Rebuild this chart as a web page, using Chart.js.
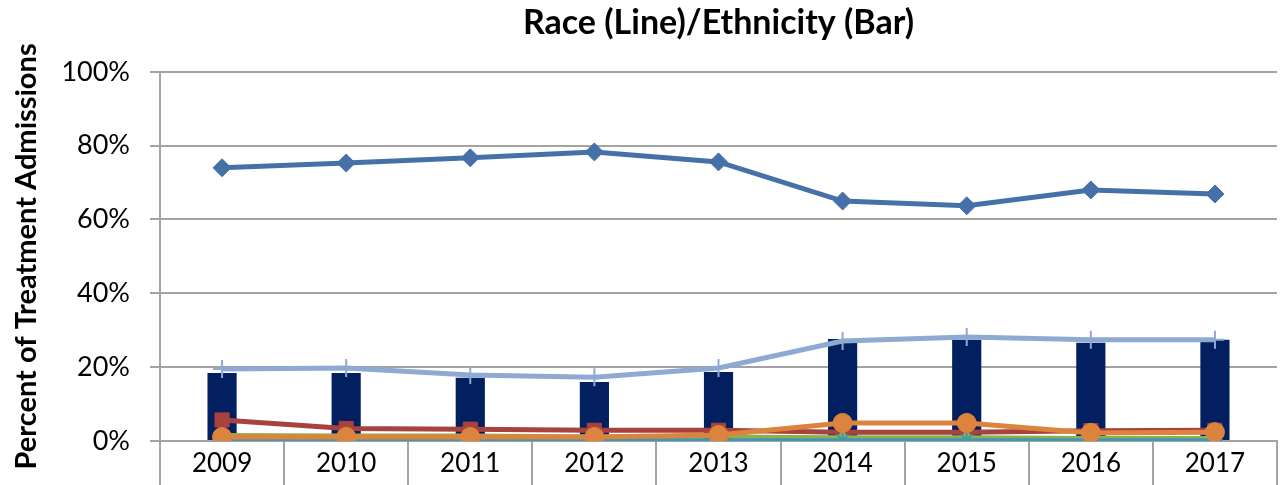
<!DOCTYPE html>
<html>
<head>
<meta charset="utf-8">
<script src="https://cdn.jsdelivr.net/npm/chart.js@4"></script>
<style>
  html, body { margin: 0; padding: 0; background: #fff; }
  #wrap { width: 1288px; height: 485px; }
</style>
</head>
<body>
<div id="wrap"><canvas id="raceChart"></canvas></div>
<script>
// values, percent of treatment admissions
const years = ['2009', '2010', '2011', '2012', '2013', '2014', '2015', '2016', '2017'];
const hispanicBar = [18.4, 18.4, 17.1, 16.0, 18.7, 27.6, 27.4, 26.6, 27.4];
const white = [74.0, 75.3, 76.7, 78.3, 75.6, 65.0, 63.7, 68.0, 66.9];
const black = [5.7, 3.4, 3.2, 2.9, 2.9, 2.4, 2.4, 2.8, 2.9];
const amIndian = [1.6, 1.5, 1.5, 1.2, 1.2, 1.0, 1.0, 0.8, 0.8];
const asian = [0.3, 0.3, 0.3, 0.3, 0.3, 0.3, 0.3, 0.3, 0.3];
const pacific = [0.2, 0.2, 0.2, 0.2, 0.2, 0.2, 0.2, 0.2, 0.2];
const multiRace = [1.1, 1.1, 1.1, 1.1, 1.6, 4.9, 4.9, 2.2, 2.4];
const otherRace = [19.5, 19.8, 17.9, 17.3, 19.8, 27.1, 28.2, 27.4, 27.4];
const yTicks = [0, 20, 40, 60, 80, 100];

const FONT = 'Lato, "Open Sans", sans-serif';
const GRID = '#a3a3a3';

function lineSet(label, data, color, style, radius, order, width) {
  return {
    type: 'line', label, data, order,
    borderColor: color, backgroundColor: color,
    borderWidth: width || 5,
    pointStyle: style, pointRadius: radius, pointHoverRadius: radius,
    pointBorderColor: color, pointBackgroundColor: color,
    pointBorderWidth: style === 'cross' || style === 'star' || style === 'crossRot' ? 2 : 1,
    tension: 0
  };
}

const ctx = document.getElementById('raceChart');
new Chart(ctx, {
  data: {
    labels: years,
    datasets: [
      lineSet('White', white, '#4571a8', 'rectRot', 9, 1),
      lineSet('Other', otherRace, '#8ea9d2', 'cross', 9, 2),
      lineSet('Multiple', multiRace, '#dc843d', 'circle', 9.5, 3),
      lineSet('Asian', asian, '#7a5e9a', 'crossRot', 7, 6, 3),
      lineSet('Pacific Islander', pacific, '#3e98b0', 'star', 8, 4, 4),
      lineSet('American Indian', amIndian, '#8cb04f', 'triangle', 8, 5, 4),
      lineSet('Black', black, '#a8423f', 'rect', 10, 7),
      {
        type: 'bar', label: 'Hispanic', data: hispanicBar, order: 10,
        backgroundColor: '#022060', borderWidth: 0,
        barPercentage: 0.235, categoryPercentage: 1
      }
    ]
  },
  options: {
    responsive: true,
    maintainAspectRatio: false,
    animation: false,
    layout: { padding: { top: 2, right: 3, left: 0, bottom: 0 } },
    plugins: {
      legend: { display: false },
      tooltip: { enabled: false },
      title: {
        display: true,
        fullSize: false,
        text: 'Race (Line)/Ethnicity (Bar)',
        color: '#000',
        font: { family: FONT, size: 34, weight: 'bold' },
        padding: { top: 1, bottom: 28 }
      }
    },
    scales: {
      x: {
        offset: true,
        grid: {
          offset: true, drawOnChartArea: false, drawTicks: true,
          tickLength: 44, color: GRID, lineWidth: 2
        },
        border: { display: true, color: GRID, width: 2 },
        ticks: {
          color: '#000', padding: -37,
          font: { family: FONT, size: 26 }
        },
        afterFit(scale) { scale.height = 44; }
      },
      y: {
        min: 0, max: 100,
        afterBuildTicks(scale) { scale.ticks = yTicks.map(v => ({ value: v })); },
        grid: { color: GRID, lineWidth: 2, tickLength: 10 },
        border: { display: true, color: GRID, width: 2 },
        ticks: {
          color: '#000', padding: 20,
          font: { family: FONT, size: 27 },
          callback: v => v + '%'
        },
        title: {
          display: true,
          text: 'Percent of Treatment Admissions',
          color: '#000',
          font: { family: FONT, size: 29, weight: 'bold' },
          padding: { top: 9, bottom: 0 }
        },
        afterFit(scale) { scale.width = 160; }
      }
    }
  }
});
</script>
</body>
</html>
